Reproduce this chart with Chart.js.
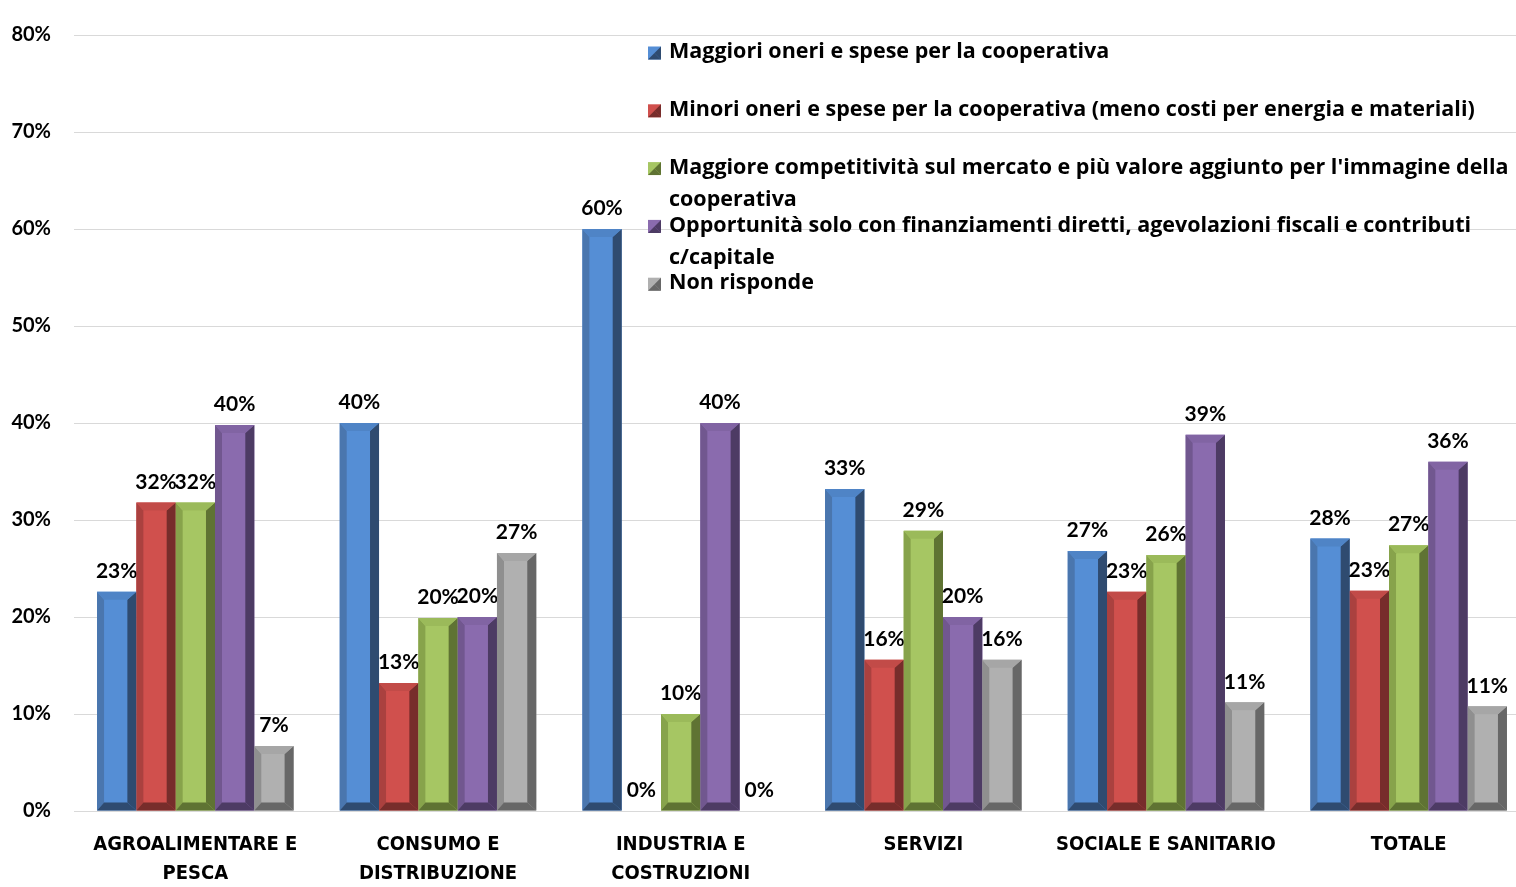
<!DOCTYPE html>
<html>
<head>
<meta charset="utf-8">
<script src="https://cdn.jsdelivr.net/npm/chart.js@4.4.1/dist/chart.umd.min.js"></script>
<style>
  html, body { margin: 0; padding: 0; background: #fff; overflow: hidden; }
  #wrap { width: 1530px; height: 887px; }
</style>
</head>
<body>
<div id="wrap"><canvas id="chart"></canvas></div>
<script>
// Sectors on the x axis
const categories = [
    ['AGROALIMENTARE E', 'PESCA'],
    ['CONSUMO E', 'DISTRIBUZIONE'],
    ['INDUSTRIA E', 'COSTRUZIONI'],
    'SERVIZI',
    'SOCIALE E SANITARIO',
    'TOTALE'
];

// Answer series (percent)
const maggioriOneri   = [22.6, 40.0, 60.0, 33.2, 26.8, 28.1];
const minoriOneri     = [31.8, 13.2,  0.0, 15.6, 22.6, 22.7];
const competitivita   = [31.8, 19.9, 10.0, 28.9, 26.4, 27.4];
const opportunita     = [39.8, 20.0, 40.0, 20.0, 38.8, 36.0];
const nonRisponde     = [ 6.7, 26.6,  0.0, 15.6, 11.2, 10.8];

const seriesNames = [
    'Maggiori oneri e spese per la cooperativa',
    'Minori oneri e spese per la cooperativa (meno costi per energia e materiali)',
    'Maggiore competitività sul mercato e più valore aggiunto per l\'immagine della cooperativa',
    'Opportunità solo con finanziamenti diretti, agevolazioni fiscali e contributi c/capitale',
    'Non risponde'
];

// Legend text split as it wraps in the legend box
const legendLines = [
    ['Maggiori oneri e spese per la cooperativa'],
    ['Minori oneri e spese per la cooperativa (meno costi per energia e materiali)'],
    ['Maggiore competitività sul mercato e più valore aggiunto per l\'immagine della', 'cooperativa'],
    ['Opportunità solo con finanziamenti diretti, agevolazioni fiscali e contributi', 'c/capitale'],
    ['Non risponde']
];

const yTicks = [0, 10, 20, 30, 40, 50, 60, 70, 80];

// face / left edge / right edge / top edge / bottom edge
const palette = [
    { face: '#558ED5', left: '#4A76AE', right: '#2F4B70', top: '#4F84C6', bottom: '#2F4B70' },
    { face: '#D0504D', left: '#AA413F', right: '#772D2B', top: '#C24B48', bottom: '#772D2B' },
    { face: '#A6C663', left: '#87A34B', right: '#5F7333', top: '#9BBA5A', bottom: '#5F7333' },
    { face: '#8A6BAE', left: '#71578F', right: '#4D3B64', top: '#8164A3', bottom: '#4D3B64' },
    { face: '#B0B0B0', left: '#8F8F8F', right: '#676767', top: '#A6A6A6', bottom: '#676767' }
];

const seriesData = [maggioriOneri, minoriOneri, competitivita, opportunita, nonRisponde];

const labelFont = "bold 21px Lato, 'Open Sans', sans-serif";
const legendFont = "bold 21.5px 'Open Sans', Lato, sans-serif";

// Bevelled bars, value labels and the legend block
const bevelPlugin = {
    id: 'bevel',
    afterDatasetsDraw: function(chart) {
        const ctx = chart.ctx;
        chart.data.datasets.forEach(function(dataset, i) {
            const meta = chart.getDatasetMeta(i);
            const c = palette[i];
            meta.data.forEach(function(bar, index) {
                const x0 = bar.x - bar.width / 2;
                const x1 = bar.x + bar.width / 2;
                const yt = bar.y;
                const yb = bar.base;
                const h = yb - yt;
                if (h > 1) {
                    const bl = Math.min(7, h / 2);
                    const br = Math.min(9, h / 2);
                    const bt = Math.min(8, h / 2);
                    const poly = function(pts, color) {
                        ctx.beginPath();
                        ctx.moveTo(pts[0][0], pts[0][1]);
                        for (let k = 1; k < pts.length; k++) ctx.lineTo(pts[k][0], pts[k][1]);
                        ctx.closePath();
                        ctx.fillStyle = color;
                        ctx.fill();
                    };
                    ctx.save();
                    poly([[x0, yt], [x0 + bl, yt + bt], [x0 + bl, yb - bt], [x0, yb]], c.left);
                    poly([[x1, yt], [x1 - br, yt + bt], [x1 - br, yb - bt], [x1, yb]], c.right);
                    poly([[x0, yt], [x1, yt], [x1 - br, yt + bt], [x0 + bl, yt + bt]], c.top);
                    poly([[x0, yb], [x1, yb], [x1 - br, yb - bt], [x0 + bl, yb - bt]], c.bottom);
                    ctx.restore();
                }
                const value = dataset.data[index];
                ctx.save();
                ctx.fillStyle = '#000';
                ctx.font = labelFont;
                ctx.textAlign = 'center';
                ctx.textBaseline = 'bottom';
                ctx.fillText(Math.round(value) + '%', bar.x, yt - 10);
                ctx.restore();
            });
        });
    },
    afterDraw: function(chart) {
        const ctx = chart.ctx;
        const lx = 648, tx = 669, y0 = 52, step = 57.8, wrap = 32, sq = 13;
        ctx.save();
        legendLines.forEach(function(lines, i) {
            const y = y0 + i * step;
            const c = palette[i];
            // pyramid-style marker
            const mx = lx, my = y - sq / 2 + 1;
            ctx.fillStyle = c.face;
            ctx.fillRect(mx, my, sq, sq);
            ctx.fillStyle = c.right;
            ctx.beginPath();
            ctx.moveTo(mx + sq, my); ctx.lineTo(mx + sq, my + sq); ctx.lineTo(mx + sq / 2, my + sq / 2);
            ctx.closePath(); ctx.fill();
            ctx.beginPath();
            ctx.moveTo(mx, my + sq); ctx.lineTo(mx + sq, my + sq); ctx.lineTo(mx + sq / 2, my + sq / 2);
            ctx.closePath(); ctx.fill();
            ctx.fillStyle = '#000';
            ctx.font = legendFont;
            ctx.textAlign = 'left';
            ctx.textBaseline = 'middle';
            lines.forEach(function(line, j) {
                ctx.fillText(line, tx, y + j * wrap);
            });
        });
        ctx.restore();
    }
};

const ctx = document.getElementById('chart').getContext('2d');
new Chart(ctx, {
    type: 'bar',
    data: {
        labels: categories,
        datasets: seriesData.map(function(values, i) {
            return {
                label: seriesNames[i],
                data: values,
                backgroundColor: palette[i].face,
                borderWidth: 0,
                barPercentage: 1.0,
                categoryPercentage: 0.81
            };
        })
    },
    options: {
        responsive: true,
        maintainAspectRatio: false,
        animation: false,
        layout: {
            padding: { top: 28, right: 0, bottom: 0, left: 0 }
        },
        scales: {
            x: {
                grid: { display: false },
                border: { display: false },
                ticks: {
                    font: { family: "'Liberation Sans Narrow', 'DejaVu Sans Condensed', sans-serif", size: 20, weight: 'bold', lineHeight: 1.45 },
                    color: '#000',
                    padding: 11,
                    maxRotation: 0,
                    autoSkip: false
                },
                afterFit: function(scale) { scale.height = 76; }
            },
            y: {
                min: 0,
                max: 80,
                afterBuildTicks: function(scale) {
                    scale.ticks = yTicks.map(function(v) { return { value: v }; });
                },
                grid: { color: '#D9D9D9', lineWidth: 1, drawTicks: false },
                border: { display: false },
                ticks: {
                    font: { family: "Lato, 'Open Sans', sans-serif", size: 20, weight: 'bold' },
                    color: '#000',
                    padding: 23,
                    callback: function(value) { return value + '%'; }
                },
                afterFit: function(scale) { scale.width = 74; }
            }
        },
        plugins: {
            legend: { display: false },
            tooltip: { enabled: false }
        }
    },
    plugins: [bevelPlugin]
});
</script>
</body>
</html>
